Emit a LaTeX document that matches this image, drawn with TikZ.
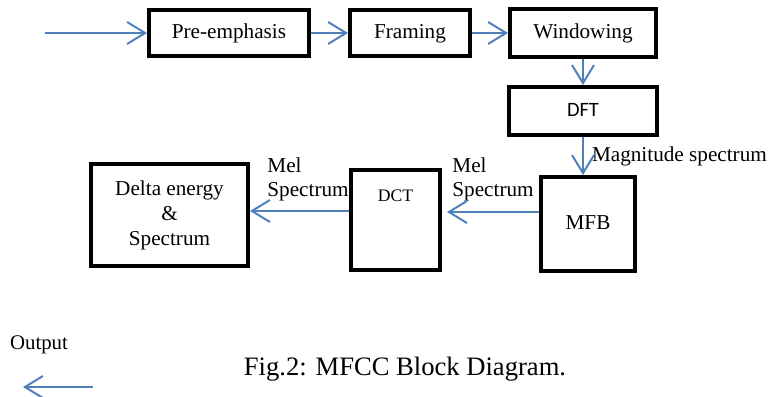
\documentclass[tikz,border=0pt]{standalone}
\usepackage{fontspec}
\setmainfont{Liberation Serif}
\newfontfamily\dftfont{Carlito}
\usetikzlibrary{arrows.meta,positioning}
\definecolor{arrblue}{HTML}{4F81BD}
\tikzset{
	mfccbox/.style={rectangle, draw=black, line width=2pt, align=center,
		font=\fontsize{10.6}{12.5}\selectfont, inner sep=2pt},
	oneline/.style={text height=7.5pt, text depth=2.3pt},
	mfccarr/.style={-{Straight Barb[length=9pt,width=11pt]}, draw=arrblue, line width=1pt},
	mfcclbl/.style={font=\fontsize{10.6}{12}\selectfont, align=left, inner sep=0pt}
}
\begin{document}
\begin{tikzpicture}[x=0.5pt, y=-0.5pt]
			\useasboundingbox (0,0) rectangle (780,396);
			\node[mfccbox, oneline, minimum width=80pt, minimum height=23pt] (pre) at (229,33) {Pre-emphasis};
			\node[mfccbox, oneline, right=18.5pt of pre, minimum width=60pt, minimum height=23pt] (frm) {Framing};
			\node[mfccbox, oneline, right=18pt of frm, minimum width=73pt, minimum height=24pt] (win) {Windowing};
			\node[mfccbox, oneline, below=13pt of win, minimum width=74pt, minimum height=24pt,
				font=\dftfont\fontsize{10.2}{12}\selectfont] (dft) {DFT};
			\node[mfccbox, oneline, below=19pt of dft, xshift=2.5pt, minimum width=47pt, minimum height=47pt] (mfb) {MFB};
			\node[mfccbox, left=48.5pt of mfb, yshift=2pt, minimum width=44.5pt, minimum height=50pt,
				text height=6.5pt, text depth=25.5pt, font=\fontsize{8.8}{10}\selectfont] (dct) {DCT};
			\node[mfccbox, left=49.5pt of dct, yshift=2.5pt, minimum width=78.5pt, minimum height=51pt] (delta) {Delta energy\\ \&\\ Spectrum};
			\coordinate[left=51pt of pre] (in);
			\node[mfcclbl, anchor=south west] (mel1) at ([xshift=5pt,yshift=9.5pt]dct.east) {Mel\\Spectrum};
			\node[mfcclbl, anchor=south west] (mel2) at ([xshift=8.5pt,yshift=7pt]delta.east) {Mel\\Spectrum};
			\node[mfcclbl, font=\fontsize{10.4}{12}\selectfont] (outlbl) at (39,345) {Output};
			\coordinate (outa) at (93,387);
			\coordinate (outb) at (23,387);
			\node[inner sep=0pt, font=\fontsize{13.3}{15}\selectfont] (cap) at (405,369) {Fig.2: MFCC Block Diagram.};
			\draw[mfccarr] (in)--(pre);
			\draw[mfccarr] (pre)--(frm);
			\draw[mfccarr] (frm)--(win);
			\draw[mfccarr] (win.south)--(win.south |- dft.north);
			\draw[mfccarr] (dft.south)--(dft.south |- mfb.north)
				node[midway, right, mfcclbl, xshift=4pt] (mag) {Magnitude spectrum};
			\draw[mfccarr, shorten >=2.5pt] ([yshift=6pt]mfb.west)--([yshift=6pt]mfb.west -| dct.east);
			\draw[mfccarr] ([yshift=4.5pt]dct.west)--([yshift=4.5pt]dct.west -| delta.east);
			\draw[mfccarr] (outa)--(outb);
		\end{tikzpicture}
\end{document}
